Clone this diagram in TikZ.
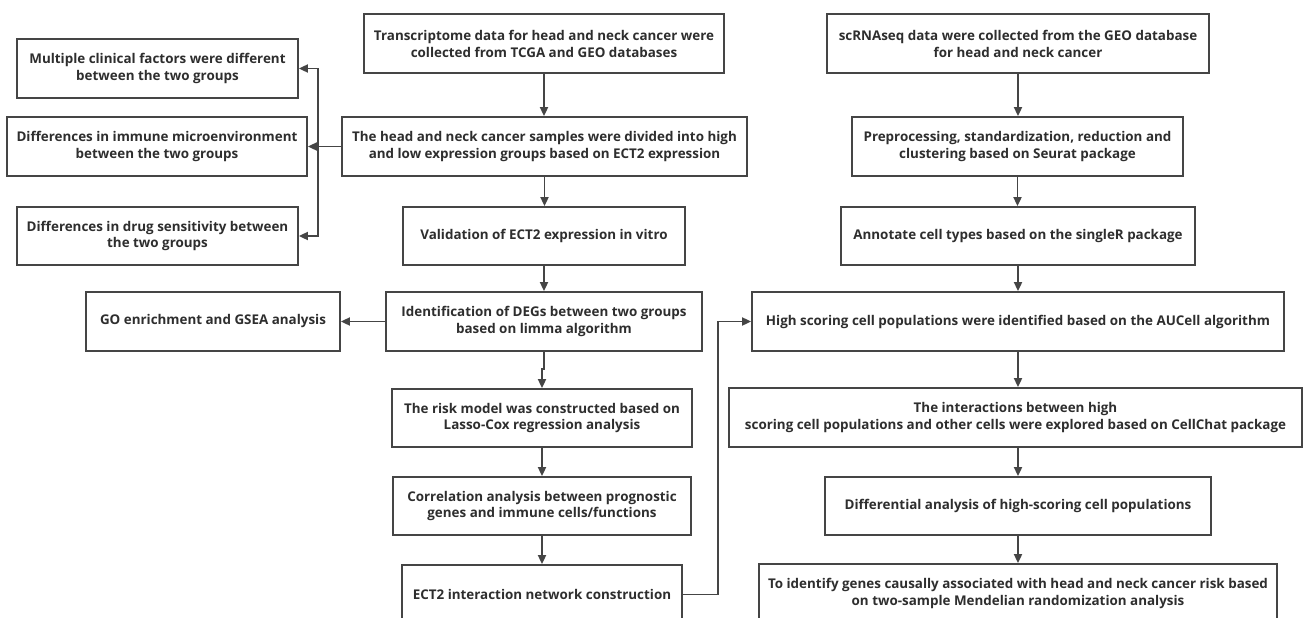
\documentclass[tikz,border=0pt]{standalone}
\usepackage{fontspec}
\setmainfont{Open Sans}
\usetikzlibrary{arrows.meta}
\definecolor{linec}{HTML}{454545}
\definecolor{textc}{HTML}{2E2E2E}
\tikzset{
  box/.style={draw=linec, line width=1.8pt, rectangle, inner sep=0pt, align=center,
    text=textc, font=\fontsize{13.4}{16.9}\selectfont\bfseries},
  arr/.style={draw=linec, line width=1.8pt, -{Triangle[length=9pt,width=8pt]}},
}
\begin{document}
\begin{tikzpicture}[x=1pt,y=-1pt]
\useasboundingbox (0,0) rectangle (1303,618);
\clip (0,0) rectangle (1303,618);
\fill[white] (0,0) rectangle (1303,618);
% left column
\node[box, minimum width=281, minimum height=59] (mult) at (157.5,68.5) {Multiple clinical factors were different\\between the two groups};
\node[box, minimum width=300, minimum height=59] (imm) at (157,146.5) {Differences in immune microenvironment\\between the two groups};
\node[box, minimum width=281, minimum height=58] (drug) at (157.5,236) {Differences in drug sensitivity between\\the two groups};
\node[box, minimum width=254, minimum height=59] (go) at (213,321.5) {GO enrichment and GSEA analysis};
% middle column
\node[box, minimum width=360, minimum height=59] (trans) at (544,43.5) {Transcriptome data for head and neck cancer were\\collected from TCGA and GEO databases};
\node[box, minimum width=405, minimum height=59] (head) at (544.5,146.5) {The head and neck cancer samples were divided into high\\and low expression groups based on ECT2 expression};
\node[box, minimum width=282, minimum height=58] (valid) at (544,236) {Validation of ECT2 expression in vitro};
\node[box, minimum width=316, minimum height=59] (deg) at (544,321.5) {Identification of DEGs between two groups\\based on limma algorithm};
\node[box, minimum width=300, minimum height=58] (risk) at (542,418) {The risk model was constructed based on\\Lasso-Cox regression analysis};
\node[box, minimum width=298, minimum height=58] (corr) at (542,506) {Correlation analysis between prognostic\\genes and immune cells/functions};
\node[box, minimum width=280, minimum height=59] (ect) at (542,594.5) {ECT2 interaction network construction};
% right column
\node[box, minimum width=382, minimum height=59] (sc) at (1018,43.5) {scRNAseq data were collected from the GEO database\\for head and neck cancer};
\node[box, minimum width=331, minimum height=59] (pre) at (1017.5,146.5) {Preprocessing, standardization, reduction and\\clustering based on Seurat package};
\node[box, minimum width=354, minimum height=58] (ann) at (1018,236) {Annotate cell types based on the singleR package};
\node[box, minimum width=532, minimum height=59] (auc) at (1018,321.5) {High scoring cell populations were identified based on the AUCell algorithm};
\node[box, minimum width=573, minimum height=59] (cc) at (1015.5,417.5) {The interactions between high\\scoring cell populations and other cells were explored based on CellChat package};
\node[box, minimum width=386, minimum height=58] (diff) at (1018,506) {Differential analysis of high-scoring cell populations};
\node[box, minimum width=518, minimum height=59] (mr) at (1018,593.5) {To identify genes causally associated with head and neck cancer risk based\\on two-sample Mendelian randomization analysis};
% connectors
\coordinate (bj) at (318,146.5);
\draw[arr] (head.west) -- (imm.east);
\draw[arr] (bj) |- (mult.east);
\draw[arr] (bj) |- (drug.east);
\draw[arr] (trans.south) -- (trans.south |- head.north);
\draw[arr] (head.south) -- (head.south |- valid.north);
\draw[arr] (valid.south) -- (valid.south |- deg.north);
\draw[arr] (deg.west) -- (go.east);
\draw[arr] (deg.south) -- ++(0,17) -| (risk.north);
\draw[arr] (risk.south) -- (risk.south |- corr.north);
\draw[arr] (corr.south) -- (corr.south |- ect.north);
\draw[arr] (ect.east) -- ++(35,0) |- (auc.west);
\draw[arr] (sc.south) -- (sc.south |- pre.north);
\draw[arr] (pre.south) -- (pre.south |- ann.north);
\draw[arr] (ann.south) -- (ann.south |- auc.north);
\draw[arr] (auc.south) -- (auc.south |- cc.north);
\draw[arr] (cc.south -| auc.south) -- (auc.south |- diff.north);
\draw[arr] (diff.south) -- (diff.south |- mr.north);
\end{tikzpicture}
\end{document}
